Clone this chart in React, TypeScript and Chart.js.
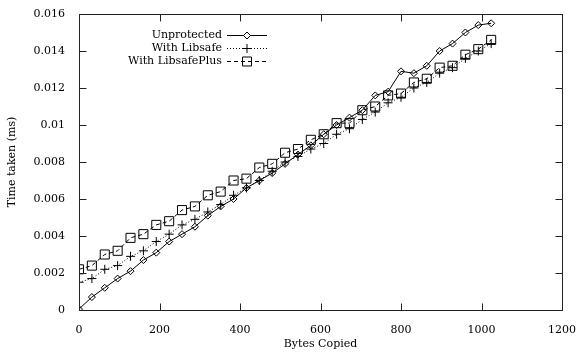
import React, { useEffect, useRef } from "react";
import { Chart, registerables } from "chart.js";

Chart.register(...registerables);

const xBytes = [0, 32, 64, 96, 128, 160, 192, 224, 256, 288, 320, 352, 384, 416, 448, 480, 512, 544, 576, 608, 640, 672, 704, 736, 768, 800, 832, 864, 896, 928, 960, 992, 1024];

const unprotected = [0.00005, 0.0007, 0.0012, 0.0017, 0.0021, 0.0027, 0.0031, 0.0037, 0.0041, 0.0045, 0.0051, 0.0056, 0.006, 0.0066, 0.007, 0.0074, 0.0079, 0.0084, 0.0089, 0.0095, 0.01, 0.0104, 0.0108, 0.0116, 0.0118, 0.0129, 0.0128, 0.0132, 0.014, 0.0144, 0.015, 0.0154, 0.0155];

const withLibsafe = [0.0015, 0.0017, 0.0022, 0.0024, 0.0029, 0.0032, 0.0037, 0.0041, 0.0046, 0.0049, 0.0053, 0.0057, 0.0062, 0.0066, 0.007, 0.0075, 0.008, 0.0083, 0.0087, 0.009, 0.0095, 0.0098, 0.0103, 0.0107, 0.0112, 0.0115, 0.012, 0.0123, 0.0128, 0.0131, 0.0136, 0.014, 0.0144];

const withLibsafePlus = [0.0022, 0.0024, 0.003, 0.0032, 0.0039, 0.0041, 0.0046, 0.0048, 0.0054, 0.0056, 0.0062, 0.0064, 0.007, 0.0071, 0.0077, 0.0079, 0.0085, 0.0087, 0.0092, 0.0095, 0.0101, 0.0101, 0.0108, 0.011, 0.0116, 0.0117, 0.0123, 0.0125, 0.0131, 0.0132, 0.0138, 0.0141, 0.0146];

const seriesNames = ["Unprotected", "With Libsafe", "With LibsafePlus"];
const xTicks = [0, 200, 400, 600, 800, 1000, 1200];
const yTicks = [0, 0.002, 0.004, 0.006, 0.008, 0.01, 0.012, 0.014, 0.016];

const FONT = '"DejaVu Serif", "Liberation Serif", serif';
const INK = "#222";

const toPts = (ys: number[]) => ys.map((y, i) => ({ x: xBytes[i], y }));

const frameAndLegend = {
  id: "frameAndLegend",
  afterDraw(chart: any) {
    const { ctx, chartArea: a, scales } = chart;
    ctx.save();
    ctx.strokeStyle = INK;
    ctx.lineWidth = 1;
    ctx.setLineDash([]);
    const L = Math.round(a.left) + 0.5;
    const R = Math.round(a.right) + 0.5;
    const T = Math.round(a.top) + 0.5;
    const B = Math.round(a.bottom) + 0.5;
    ctx.strokeRect(L, T, R - L, B - T);
    const tl = 7;
    ctx.beginPath();
    xTicks.forEach((v) => {
      const px = Math.round(scales.x.getPixelForValue(v)) + 0.5;
      ctx.moveTo(px, B);
      ctx.lineTo(px, B - tl);
      ctx.moveTo(px, T);
      ctx.lineTo(px, T + tl);
    });
    yTicks.forEach((v) => {
      const py = Math.round(scales.y.getPixelForValue(v)) + 0.5;
      ctx.moveTo(L, py);
      ctx.lineTo(L + tl, py);
      ctx.moveTo(R, py);
      ctx.lineTo(R - tl, py);
    });
    ctx.stroke();

    // legend (gnuplot style: text right-aligned, sample to the right)
    const rows = [35, 48, 61];
    const textRight = 222;
    const sx0 = 227;
    const sx1 = 267;
    const mx = 247;
    ctx.font = "11px " + FONT;
    ctx.textAlign = "right";
    ctx.textBaseline = "middle";
    seriesNames.forEach((name, i) => {
      const y = rows[i];
      ctx.fillStyle = "#000";
      ctx.fillText(name, textRight, y);
      const yy = y + 0.5;
      ctx.strokeStyle = "#000";
      ctx.lineWidth = 1;
      ctx.setLineDash(i === 0 ? [] : i === 1 ? [1, 2] : [4, 3]);
      ctx.beginPath();
      ctx.moveTo(sx0, yy);
      ctx.lineTo(sx1, yy);
      ctx.stroke();
      ctx.setLineDash([]);
      ctx.beginPath();
      if (i === 0) {
        ctx.fillStyle = "#fff";
        ctx.moveTo(mx, yy - 3.5);
        ctx.lineTo(mx + 3.5, yy);
        ctx.lineTo(mx, yy + 3.5);
        ctx.lineTo(mx - 3.5, yy);
        ctx.closePath();
        ctx.fill();
        ctx.stroke();
      } else if (i === 1) {
        ctx.moveTo(mx - 4.5, yy);
        ctx.lineTo(mx + 4.5, yy);
        ctx.moveTo(mx, yy - 4.5);
        ctx.lineTo(mx, yy + 4.5);
        ctx.stroke();
      } else {
        ctx.rect(mx - 4.5, yy - 4.5, 9, 9);
        ctx.stroke();
      }
    });
    ctx.restore();
  },
};

export default function App() {
  const ref = useRef<HTMLCanvasElement | null>(null);

  useEffect(() => {
    if (!ref.current) return;
    const chart = new Chart(ref.current, {
      type: "line",
      data: {
        datasets: [
          {
            label: seriesNames[0],
            data: toPts(unprotected),
            borderColor: "#000",
            borderWidth: 1,
            pointStyle: "rectRot",
            pointRadius: 3.5,
            pointBorderWidth: 1,
            pointBorderColor: "#000",
            pointBackgroundColor: "rgba(255,255,255,0)",
            tension: 0,
          },
          {
            label: seriesNames[1],
            data: toPts(withLibsafe),
            borderColor: "#000",
            borderWidth: 1,
            borderDash: [1, 2],
            pointStyle: "cross",
            pointRadius: 4.5,
            pointBorderWidth: 1,
            pointBorderColor: "#000",
            pointBackgroundColor: "rgba(0,0,0,0)",
            tension: 0,
          },
          {
            label: seriesNames[2],
            data: toPts(withLibsafePlus),
            borderColor: "#000",
            borderWidth: 1,
            borderDash: [4, 3],
            pointStyle: "rect",
            pointRadius: 6.4,
            pointBorderWidth: 1,
            pointBorderColor: "#000",
            pointBackgroundColor: "rgba(0,0,0,0)",
            tension: 0,
          },
        ],
      },
      options: {
        animation: false,
        responsive: false,
        maintainAspectRatio: false,
        layout: { padding: { top: 14, right: 18, left: 0, bottom: 0 } },
        plugins: {
          legend: { display: false },
          tooltip: { enabled: false },
        },
        scales: {
          x: {
            type: "linear",
            min: 0,
            max: 1200,
            afterBuildTicks: (s: any) => {
              s.ticks = xTicks.map((v) => ({ value: v }));
            },
            afterFit: (s: any) => {
              s.height = 44;
            },
            grid: { display: false },
            border: { display: false },
            ticks: {
              color: "#000",
              font: { family: FONT, size: 11 },
              padding: 6,
              maxRotation: 0,
              autoSkip: false,
              callback: (v: any) => String(v),
            },
            title: {
              display: true,
              text: "Bytes Copied",
              color: "#000",
              font: { family: FONT, size: 11 },
              padding: { top: 2, bottom: 3 },
            },
          },
          y: {
            type: "linear",
            min: 0,
            max: 0.016,
            afterBuildTicks: (s: any) => {
              s.ticks = yTicks.map((v) => ({ value: v }));
            },
            afterFit: (s: any) => {
              s.width = 79;
            },
            grid: { display: false },
            border: { display: false },
            ticks: {
              color: "#000",
              font: { family: FONT, size: 11 },
              padding: 6,
              autoSkip: false,
              callback: (v: any) => String(parseFloat(Number(v).toFixed(4))),
            },
            title: {
              display: true,
              text: "Time taken (ms)",
              color: "#000",
              font: { family: FONT, size: 11 },
              padding: { top: 6, bottom: 2 },
            },
          },
        },
      },
      plugins: [frameAndLegend],
    });
    return () => chart.destroy();
  }, []);

  return (
    <div style={{ position: "fixed", left: 0, top: 0, width: 582, height: 354, background: "#fff" }}>
      <canvas ref={ref} width={582} height={354} style={{ width: 582, height: 354, display: "block" }} />
    </div>
  );
}
